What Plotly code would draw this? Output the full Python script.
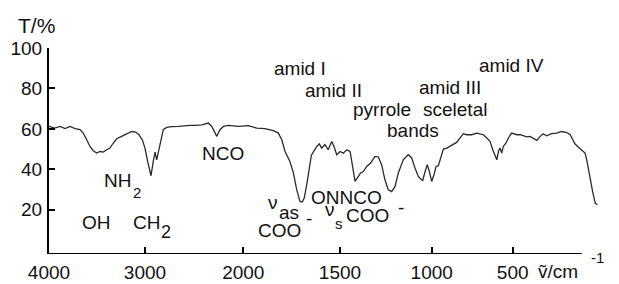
import numpy as np
import plotly.graph_objects as go

# ---------------- data ----------------
wavenumber = [4000, 3940, 3885, 3833, 3781, 3729, 3677, 3643, 3607, 3573, 3539, 3503, 3469, 3434,
              3399, 3365, 3330, 3295, 3243, 3191, 3139, 3097, 3063, 3028, 3000, 2973, 2939, 2916,
              2898, 2881, 2871, 2858, 2837, 2814, 2779, 2729, 2661, 2593, 2542, 2491, 2423, 2356,
              2321, 2270, 2237, 2203, 2152, 2051, 1974, 1931, 1888, 1845, 1819, 1801, 1784, 1759,
              1741, 1724, 1707, 1695, 1685, 1672, 1660, 1648, 1638, 1620, 1607, 1595, 1578, 1561,
              1543, 1531, 1517, 1500, 1482, 1463, 1445, 1436, 1418, 1400, 1387, 1373, 1354, 1333,
              1309, 1291, 1273, 1255, 1237, 1218, 1200, 1182, 1155, 1128, 1109, 1091, 1073, 1055,
              1049, 1036, 1024, 1013, 1000, 986, 973, 959, 944, 928, 907, 877, 846, 825, 805, 784,
              753, 722, 702, 681, 660, 640, 623, 609, 598, 588, 578, 568, 558, 541, 527, 506, 495,
              491, 487.5, 483.5, 479.5, 475.5, 471.5, 467.5, 464, 460, 454, 448, 442, 436, 432,
              429, 426.5, 422.5, 418.5, 414.5, 412.5, 410.5, 408, 405.5, 402.5, 400]
transmittance = [61.2, 60.4, 61.2, 60.1, 61.2, 60.1, 59.6, 57.9, 54.6, 51.3, 49.2, 48.0, 48.8, 48.5,
                 49.7, 50.5, 53.0, 55.1, 56.3, 57.4, 58.7, 58.4, 57.1, 54.6, 50.5, 43.9, 36.8, 43.9,
                 48.5, 44.7, 47.2, 50.5, 55.5, 59.6, 60.7, 61.1, 61.2, 61.6, 61.7, 61.7, 62.0, 62.9,
                 61.2, 56.3, 59.6, 61.2, 61.7, 61.2, 61.6, 60.4, 60.1, 59.1, 57.9, 54.6, 48.8, 43.9,
                 38.2, 29.9, 24.1, 23.8, 25.8, 32.4, 40.6, 47.0, 48.5, 51.3, 52.6, 50.5, 52.2, 49.7,
                 53.8, 51.3, 47.2, 48.8, 48.0, 49.7, 48.8, 43.1, 34.0, 36.5, 38.2, 38.9, 41.4, 43.1,
                 46.4, 46.1, 42.3, 34.8, 29.9, 29.0, 31.5, 38.2, 44.7, 47.2, 45.6, 40.6, 36.5, 34.8,
                 34.5, 38.9, 42.3, 38.9, 34.0, 37.3, 41.4, 41.8, 46.4, 50.0, 50.5, 51.7, 53.3, 55.5,
                 57.6, 57.1, 57.1, 57.9, 57.6, 57.1, 55.5, 53.8, 49.7, 46.4, 44.7, 48.8, 50.5, 48.0,
                 51.3, 53.0, 55.5, 57.9, 57.1, 57.1, 56.6, 56.0, 56.3, 55.5, 54.3, 56.3, 57.6, 56.6,
                 57.6, 57.9, 58.7, 58.2, 57.1, 54.6, 52.6, 51.0, 49.3, 48.0, 44.7, 39.8, 34.8, 29.0,
                 23.3, 22.5]

x_ticks = [4000, 3000, 2000, 1500, 1000, 500]
x_tick_labels = ["4000", "3000", "2000", "1500", "1000", "500"]
y_ticks = [20, 40, 60, 80, 100]
y_tick_labels = ["20", "40", "60", "80", "100"]
x_axis_end = 418.5

# ---------------- axis scale (spectrometer chart scale, piecewise linear) ----------------
SCALE_WN = np.array([4000, 3000, 2000, 1500, 1000, 500, 400], dtype=float)
SCALE_POS = np.array([0, 96, 194.3, 291, 382.7, 463.7, 548.3])


def tx(w):
    return np.interp(-np.asarray(w, dtype=float), -SCALE_WN, SCALE_POS)


# ---------------- layout geometry ----------------
W, H = 619, 284
ML, MR, MT, MB = 49, 10, 48, 30
PW, PH = W - ML - MR, H - MT - MB
FONT = "Arial, Liberation Sans, sans-serif"
INK = "#111111"
FS = 19

fig = go.Figure()
fig.add_trace(go.Scatter(x=tx(wavenumber), y=transmittance, mode="lines",
                         line=dict(color="#2a2a2a", width=1.3), hoverinfo="skip",
                         showlegend=False))

# bottom axis line (stops before the end of the trace, as in the original)
fig.add_shape(type="line", xref="x", yref="y", x0=float(tx(4000)), x1=float(tx(x_axis_end)),
              y0=-1.9, y1=-1.9, layer="above", line=dict(color="black", width=2))


def at(px, py):
    return dict(x=(px - ML) / PW, y=(MT + PH - py) / PH, xref="paper", yref="paper")


labels = [
    ("T/%", 36, 25.7, 21),
    ("amid I", 300, 68.7, FS),
    ("amid II", 333.5, 90.4, FS),
    ("pyrrole", 381.5, 109.5, FS),
    ("sceletal", 455, 109.5, FS),
    ("bands", 413, 130.4, FS),
    ("amid III", 450, 87, FS),
    ("amid IV", 511.7, 65.4, FS),
    ("NCO", 222.5, 153.7, FS),
    ("NH", 117.5, 180.4, FS),
    ("2", 136.5, 192, 15),
    ("OH", 96.7, 222, FS),
    ("CH", 146.3, 222, FS),
    ("2", 165.5, 232, 18),
    ("ν", 272.5, 202, FS),
    ("as", 288.5, 212.5, FS),
    ("COO", 279, 230.4, FS),
    ("-", 308.5, 218, FS),
    ("ONNCO", 346, 197, FS),
    ("ν", 330, 209.7, FS),
    ("s", 338.5, 223, 15),
    ("COO", 367, 215.4, FS),
    ("-", 400.5, 207, FS),
    ("ṽ/cm", 557.5, 271.5, FS),
    ("-1", 597, 257.7, 15),
]
for text, px, py, size in labels:
    fig.add_annotation(text=text, showarrow=False, xanchor="center", yanchor="middle",
                       font=dict(family=FONT, size=size, color=INK), **at(px, py))

fig.update_layout(
    width=W, height=H,
    margin=dict(l=ML, r=MR, t=MT, b=MB, pad=0, autoexpand=False),
    plot_bgcolor="white", paper_bgcolor="white",
    font=dict(family=FONT, size=FS, color=INK),
    xaxis=dict(range=[0, PW], tickvals=list(tx(x_ticks)), ticktext=x_tick_labels,
               ticks="inside", ticklen=7, tickwidth=1.5, tickcolor="black",
               showline=False, showgrid=False, zeroline=False, automargin=False,
               tickfont=dict(family=FONT, size=FS, color=INK), ticklabelstandoff=5),
    yaxis=dict(range=[-1.9, 100], tickvals=y_ticks, ticktext=y_tick_labels,
               ticks="inside", ticklen=6, tickwidth=1.5, tickcolor="black",
               showline=True, linewidth=2, linecolor="black", mirror=False,
               showgrid=False, zeroline=False, automargin=False,
               tickfont=dict(family=FONT, size=FS, color=INK), ticklabelstandoff=1),
)

fig.write_html("out.html", config={"displayModeBar": False},
               post_script="document.body.style.margin='0';document.body.style.padding='0';")
